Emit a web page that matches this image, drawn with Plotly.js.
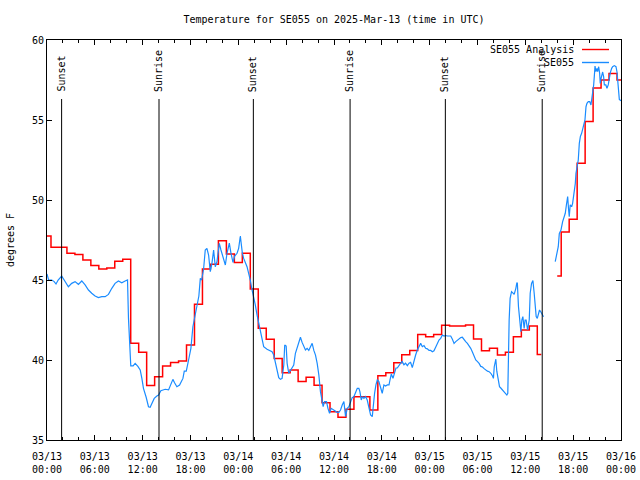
<!DOCTYPE html>
<html>
<head>
<meta charset="utf-8">
<script src="https://cdn.plot.ly/plotly-3.0.1.min.js"></script>
<style>html,body{margin:0;padding:0;background:#fff}#chart{width:640px;height:480px}</style>
</head>
<body>
<div id="chart"></div>
<script>
// Hours since 2025-03-13 00:00 UTC
const startDate = Date.UTC(2025, 2, 13);

// SE055 Analysis (hourly)
const analysisHours = [0,1,2,3,4,5,6,7,8,9,10,11,12,13,14,15,16,17,18,19,20,21,22,23,24,25,26,27,28,29,30,31,32,33,34,35,36,37,38,39,40,41,42,43,44,45,46,47,48,49,50,51,52,53,54,55,56,57,58,59,60,61,62,63,64,65,66,67,68,69,70,71,72];
const analysisTemps = [47.75,47.04,47.04,46.67,46.6,46.25,45.9,45.69,45.75,46.17,46.29,41.04,40.48,38.4,38.96,39.63,39.85,39.94,40.94,43.48,45.69,45.98,47.46,46.63,46.1,46.67,44.44,41.98,41.29,40.1,39.2,39.38,38.65,38.92,38.42,37.33,36.77,36.42,36.92,37.71,37.71,36.88,39.02,39.21,39.83,40.33,40.6,41.6,41.46,41.6,42.17,42.13,42.13,42.19,41.31,40.58,40.73,40.31,40.48,41.46,41.88,42.13,40.35,null,45.25,48.0,48.8,52.3,54.9,57.0,57.5,57.9,57.5];

// SE055 observations
const obsHours = [0.0,0.2,0.6,0.9,1.13,1.4,1.84,2.26,2.68,3.1,3.52,3.94,4.36,4.78,5.2,5.61,6.03,6.45,6.87,7.29,7.71,8.13,8.54,8.96,9.38,9.8,10.1,10.22,10.35,10.51,10.8,11.06,11.4,11.69,11.9,12.1,12.44,12.73,12.94,13.15,13.45,13.78,14.0,14.28,14.83,15.25,15.54,15.79,16.0,16.29,16.63,17.05,17.22,17.47,17.76,18.05,18.3,18.6,18.72,18.89,19.05,19.23,19.4,19.64,19.85,20.06,20.27,20.48,20.69,20.9,21.11,21.32,21.61,21.82,22.08,22.37,22.58,22.87,23.08,23.33,23.54,23.84,24.04,24.25,24.5,24.67,25.09,25.3,25.5,25.72,25.92,26.13,26.35,26.55,26.77,26.98,27.18,27.6,28.0,28.23,28.44,28.65,28.86,29.07,29.28,29.49,29.7,29.82,30.0,30.12,30.33,30.54,30.75,30.95,31.16,31.37,31.58,31.79,32.0,32.21,32.42,32.63,32.84,33.05,33.26,33.47,33.68,33.89,34.1,34.3,34.52,34.64,34.81,35.06,35.24,35.44,35.65,35.98,36.2,36.4,36.61,36.82,37.03,37.24,37.45,37.66,37.87,38.07,38.28,38.49,38.7,38.92,39.12,39.25,39.42,39.58,39.75,39.96,40.17,40.38,40.59,40.8,40.92,41.09,41.26,41.43,41.63,41.84,42.05,42.26,42.47,42.69,42.9,43.02,43.19,43.4,43.6,43.77,43.94,44.15,44.36,44.56,44.77,44.98,45.2,45.41,45.61,45.82,46.03,46.24,46.45,46.66,46.87,47.08,47.29,47.5,47.71,47.92,48.13,48.34,48.54,48.75,48.97,49.17,49.38,49.6,49.8,50.01,50.22,50.43,50.64,50.85,51.06,51.27,51.48,51.69,51.9,52.1,52.31,52.52,52.73,52.94,53.15,53.36,53.57,53.78,54.0,54.2,54.41,54.62,54.83,55.04,55.25,55.46,55.67,55.88,56.0,56.1,56.2,56.3,56.42,56.59,56.76,56.92,57.13,57.34,57.55,57.68,57.8,57.84,57.97,58.09,58.27,58.43,58.6,58.81,58.94,59.0,59.14,59.31,59.44,59.56,59.69,59.85,59.97,60.1,60.28,60.49,60.61,60.78,60.95,61.11,61.24,61.36,61.5,61.66,61.78,61.95,62.16,62.28,63.0,63.75,63.95,64.13,64.26,64.47,64.68,64.85,65.01,65.15,65.31,65.43,65.51,65.63,65.81,65.93,66.14,66.27,66.35,66.48,66.64,66.77,66.9,67.06,67.19,67.32,67.48,67.61,67.73,67.9,68.07,68.23,68.32,68.45,68.57,68.65,68.74,68.86,68.98,69.07,69.2,69.32,69.4,69.5,69.58,69.7,69.82,69.91,70.1,70.24,70.4,70.53,70.66,70.83,70.95,71.16,71.37,71.5,71.58,71.66,71.79,72.0];
const obsTemps = [45.38,45.0,45.0,44.9,44.75,45.0,45.25,44.94,44.58,44.79,44.9,44.73,44.94,44.69,44.375,44.17,44.0,43.9,43.96,43.96,44.1,44.48,44.79,44.94,44.83,44.94,45.0,42.6,41.04,39.63,39.63,39.79,39.6,39.38,38.85,38.23,37.67,37.08,37.04,37.29,37.6,37.75,37.81,38.08,38.17,38.13,38.54,38.79,38.58,38.33,38.44,38.85,39.31,39.31,40.0,40.73,42.08,42.8,43.23,43.48,44.0,45.1,45.0,45.67,46.875,46.98,46.56,45.52,46.04,46.875,45.83,46.15,47.29,46.875,46.35,45.94,46.67,47.3,46.67,46.1,46.5,46.67,46.98,47.75,46.7,46.35,45.83,45.45,45.0,44.375,43.96,43.44,42.8,42.3,41.7,41.3,40.83,40.67,40.56,40.52,40.31,39.9,39.375,38.9,38.79,38.85,39.69,40.94,40.875,39.79,39.17,39.375,39.48,39.69,40.42,40.73,41.08,41.42,41.1,40.83,40.625,40.73,40.6,40.83,41.04,40.6,40.31,39.79,39.06,38.02,37.4,37.08,37.4,37.4,36.98,36.67,36.98,36.875,36.77,36.73,36.73,36.875,37.19,37.4,36.46,36.98,37.08,37.4,37.65,37.7,37.92,38.23,38.23,38.02,37.5,37.71,37.6,37.71,37.5,36.98,36.56,36.46,37.29,37.92,38.44,38.75,38.65,38.33,37.92,38.44,38.375,38.44,38.44,38.75,39.125,38.85,39.27,39.5,39.5,39.69,39.8,39.9,39.7,39.8,39.65,39.8,39.85,39.52,40.0,40.31,40.625,40.83,41.04,40.83,40.9,40.73,40.7,40.6,40.6,40.52,40.58,40.8,41.04,41.25,41.35,41.56,41.5,41.53,41.5,41.52,41.5,41.3,41.04,41.15,41.25,41.35,41.4,41.42,41.25,41.15,41.04,40.9,40.73,40.5,40.21,40.0,39.9,39.79,39.6,39.56,39.46,39.375,39.3,39.27,39.17,39.0,38.85,39.58,40.0,40.05,39.3,38.75,38.33,38.25,38.125,38.0,37.92,37.81,37.92,39.58,42.5,43.85,44.27,44.2,44.1,44.48,44.83,44.8,43.33,42.5,41.77,42.5,42.71,41.98,42.5,42.5,41.875,42.5,44.17,44.79,44.96,44.17,43.44,42.71,42.6,43.02,43.125,43.0,42.8,42.7,null,46.15,46.67,47.08,47.9,48.125,48.65,48.96,49.17,49.69,50.21,49.375,48.96,49.7,49.58,49.79,50.42,51.04,51.67,52.08,52.5,53.54,53.96,54.17,54.48,54.58,55.0,55.83,56.04,56.15,56.15,55.94,56.25,56.875,57.19,57.71,58.375,58.02,58.23,58.02,58.33,57.92,57.29,57.6,57.9,58.0,57.71,57.19,57.19,56.98,57.19,57.6,57.96,58.23,58.33,58.4,58.33,58.0,57.4,56.67,56.29,56.2];

// Sunrise / sunset markers (UTC)
const eventLabels = ['Sunset','Sunrise','Sunset','Sunrise','Sunset','Sunrise'];
const eventTimes = ['2025-03-13 01:50','2025-03-13 14:03','2025-03-14 01:53','2025-03-14 14:01','2025-03-15 01:58','2025-03-15 14:07'];

const seriesNames = ['SE055 Analysis','SE055'];
const seriesColors = ['#ff0000','#1a8cff'];

const toMs = h => startDate + h*3600000;
const FONT = 'DejaVu Sans Mono, monospace';

const traces = [
  {x: analysisHours.map(toMs), y: analysisTemps, type:'scatter', mode:'lines',
   line:{color:seriesColors[0], width:1.5, shape:'hvh'}, name:seriesNames[0], connectgaps:false, hoverinfo:'skip'},
  {x: obsHours.map(toMs), y: obsTemps, type:'scatter', mode:'lines',
   line:{color:seriesColors[1], width:1.2}, name:seriesNames[1], connectgaps:false, hoverinfo:'skip'}
];

const L=47, R=19, T=40, B=40, W=640, H=480;
const pw = W-L-R, ph = H-T-B;
const px = v => (v-L)/pw;
const py = v => (H-B-v)/ph;

const shapes = eventTimes.map(t => ({type:'line', xref:'x', yref:'paper', x0:t, x1:t, y0:0, y1:py(99), line:{color:'#000', width:1}}));
const annotations = eventTimes.map((t,i) => ({x:t, xref:'x', yref:'paper', y:py(93), yanchor:'bottom', xanchor:'center', text:eventLabels[i], textangle:-90, showarrow:false, font:{family:FONT, size:10, color:'#000'}, borderpad:0}));

// custom legend (text left, sample right)
seriesNames.forEach((n,i) => {
  const yy = py(49.5 + i*13);
  annotations.push({x:px(575), xref:'paper', yref:'paper', y:yy, xanchor:'right', yanchor:'middle', text:n, showarrow:false, font:{family:FONT, size:10, color:'#000'}, borderpad:0});
  shapes.push({type:'line', xref:'paper', yref:'paper', x0:px(582), x1:px(609), y0:yy, y1:yy, line:{color:seriesColors[i], width:1.4}});
});

const layout = {
  width:W, height:H, margin:{l:L, r:R, t:T, b:B}, showlegend:false,
  paper_bgcolor:'#fff', plot_bgcolor:'#fff',
  font:{family:FONT, size:10, color:'#000'},
  title:{text:'Temperature for SE055 on 2025-Mar-13 (time in UTC)', x:0.5, xref:'paper', xanchor:'center', y:1-19/H, yref:'container', yanchor:'middle', font:{family:FONT, size:10, color:'#000'}},
  xaxis:{type:'date', range:['2025-03-13 00:00','2025-03-16 00:00'], tick0:'2025-03-13 00:00', dtick:6*3600000,
    tickformat:'%m/%d<br>%H:%M', ticks:'inside', ticklen:5, tickcolor:'#000', showline:true, linecolor:'#000', linewidth:1, mirror:'allticks',
    showgrid:false, zeroline:false, ticklabelstandoff:7, tickfont:{family:FONT, size:10, color:'#000'},
    minor:{dtick:2*3600000, ticks:'inside', ticklen:3, tickcolor:'#000', showgrid:false}},
  yaxis:{range:[35,60], dtick:5, ticks:'inside', ticklen:5, tickcolor:'#000', showline:true, linecolor:'#000', linewidth:1, mirror:'allticks',
    showgrid:false, zeroline:false, tickfont:{family:FONT, size:10, color:'#000'},
    title:{text:'degrees F', standoff:15, font:{family:FONT, size:10, color:'#000'}}},
  shapes:shapes, annotations:annotations
};

Plotly.newPlot('chart', traces, layout, {staticPlot:true, displayModeBar:false});
</script>
</body>
</html>
